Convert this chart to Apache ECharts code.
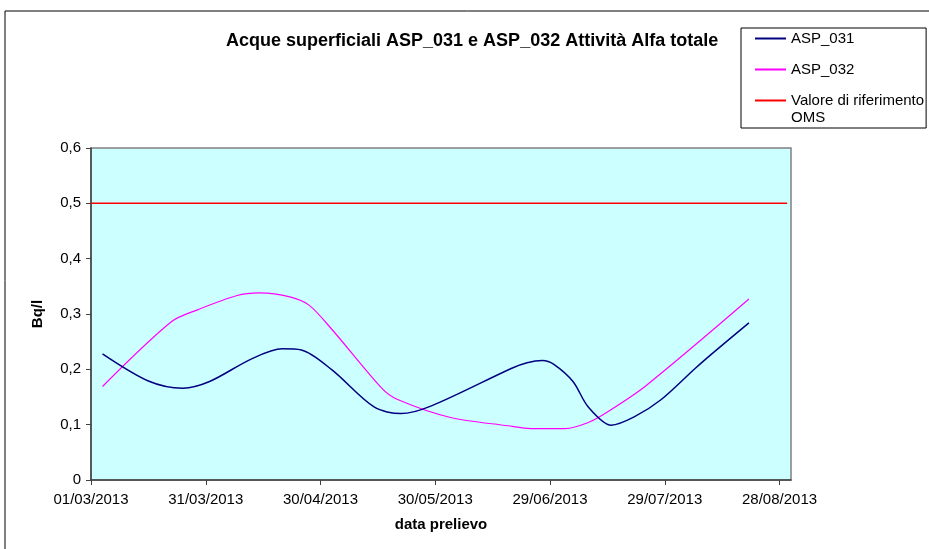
<!DOCTYPE html>
<html><head><meta charset="utf-8">
<script src="https://cdn.jsdelivr.net/npm/echarts@6/dist/echarts.min.js"></script>
<style>html,body{margin:0;padding:0;background:#fff}#c{width:929px;height:549px}</style>
</head><body><div id="c"></div>
<script>
const tickLabels = ['01/03/2013','31/03/2013','30/04/2013','30/05/2013','29/06/2013','29/07/2013','28/08/2013'];
const yTicks = [0, 0.1, 0.2, 0.3, 0.4, 0.5, 0.6];

const datesA = ['04/03/2013','16/03/2013','25/03/2013','01/04/2013','12/04/2013','20/04/2013','25/04/2013','03/05/2013','14/05/2013','21/05/2013','29/05/2013','19/06/2013','23/06/2013','27/06/2013','30/06/2013','05/07/2013','09/07/2013','15/07/2013','21/07/2013','28/07/2013','06/08/2013','11/08/2013','20/08/2013'];
const valuesA = [0.228,0.179,0.166,0.178,0.219,0.237,0.235,0.199,0.132,0.120,0.134,0.202,0.212,0.216,0.209,0.178,0.132,0.099,0.114,0.145,0.202,0.232,0.284];

const datesB = ['04/03/2013','22/03/2013','29/03/2013','08/04/2013','14/04/2013','22/04/2013','27/04/2013','03/05/2013','16/05/2013','20/05/2013','03/06/2013','18/06/2013','24/06/2013','03/07/2013','09/07/2013','14/07/2013','24/07/2013','20/08/2013'];
const valuesB = [0.169,0.286,0.308,0.333,0.338,0.331,0.316,0.272,0.166,0.146,0.113,0.098,0.093,0.093,0.104,0.123,0.170,0.327];

const refDates = ['01/03/2013','30/08/2013'];
const refValues = [0.5, 0.5];

const FONT = '"Liberation Sans", Arial, sans-serif';
const origin = Date.UTC(2013, 2, 1);
function dayOf(s) { const p = s.split('/').map(Number); return Math.round((Date.UTC(p[2], p[1] - 1, p[0]) - origin) / 86400000); }
function fmtDay(v) {
  const d = new Date(origin + Math.round(v) * 86400000);
  const dd = String(d.getUTCDate()).padStart(2, '0');
  const mm = String(d.getUTCMonth() + 1).padStart(2, '0');
  return dd + '/' + mm + '/' + d.getUTCFullYear();
}
function pairs(dates, vals) { return dates.map((s, i) => [dayOf(s), vals[i]]); }
const tickDays = tickLabels.map(dayOf);

const chart = echarts.init(document.getElementById('c'), null, {renderer: 'canvas'});
chart.setOption({
  animation: false,
  backgroundColor: '#fff',
  textStyle: {fontFamily: FONT},
  title: {
    text: 'Acque superficiali ASP_031 e ASP_032 Attività Alfa totale',
    left: 226, top: 32, padding: 0,
    textStyle: {fontSize: 18, fontWeight: 'bold', color: '#000', fontFamily: FONT}
  },
  legend: {
    orient: 'vertical', left: 741, top: 28,
    padding: [2, 2, 19, 14], itemGap: 14, itemWidth: 31, itemHeight: 2,
    icon: 'rect',
    backgroundColor: '#fff', borderColor: '#000', borderWidth: 1, borderRadius: 0,
    textStyle: {fontSize: 15, lineHeight: 17, color: '#000', fontFamily: FONT},
    formatter: n => n === 'Valore di riferimento OMS' ? 'Valore di riferimento' : n,
    data: ['ASP_031', 'ASP_032', 'Valore di riferimento OMS']
  },
  graphic: [
    {type: 'rect', shape: {x: 5, y: 11, width: 1000, height: 1000}, style: {fill: 'none', stroke: '#000', lineWidth: 1}, silent: true, z: -1},
    {type: 'text', left: 791, top: 110, style: {text: 'OMS', fontSize: 15, fontFamily: FONT, fill: '#000'}, z: 100}
  ],
  grid: {left: 91, top: 148, width: 700, height: 332, show: true, backgroundColor: '#CCFFFF', borderColor: '#808080', borderWidth: 1.5},
  xAxis: {
    type: 'value', min: 0, max: 183, interval: 30,
    name: 'data prelievo', nameLocation: 'middle', nameGap: 37,
    nameTextStyle: {fontSize: 15, fontWeight: 'bold', color: '#000', fontFamily: FONT},
    axisLine: {show: true, onZero: false, lineStyle: {color: '#404040', width: 1.5}},
    axisTick: {show: true, length: 5, lineStyle: {color: '#404040'}, customValues: tickDays},
    axisLabel: {fontSize: 15, color: '#000', margin: 12, customValues: tickDays, formatter: v => fmtDay(v)},
    splitLine: {show: false}
  },
  yAxis: {
    type: 'value', min: 0, max: 0.6, interval: 0.1,
    name: 'Bq/l', nameLocation: 'middle', nameGap: 46,
    nameTextStyle: {fontSize: 15, fontWeight: 'bold', color: '#000', fontFamily: FONT},
    axisLine: {show: true, lineStyle: {color: '#404040', width: 1.5}},
    axisTick: {show: true, length: 5, lineStyle: {color: '#404040'}},
    axisLabel: {fontSize: 15, color: '#000', margin: 10, formatter: v => v === 0 ? '0' : v.toFixed(1).replace('.', ',')},
    splitLine: {show: false}
  },
  series: [
    {name: 'ASP_031', type: 'line', data: pairs(datesA, valuesA), smooth: 0.3, symbol: 'none', color: '#000080', lineStyle: {color: '#000080', width: 1.5}, z: 3},
    {name: 'ASP_032', type: 'line', data: pairs(datesB, valuesB), smooth: 0.3, symbol: 'none', color: '#FF00FF', lineStyle: {color: '#FF00FF', width: 1.2}, z: 2},
    {name: 'Valore di riferimento OMS', type: 'line', data: pairs(refDates, refValues), symbol: 'none', color: '#FF0000', lineStyle: {color: '#FF0000', width: 1.5}, z: 1}
  ]
});
</script></body></html>
